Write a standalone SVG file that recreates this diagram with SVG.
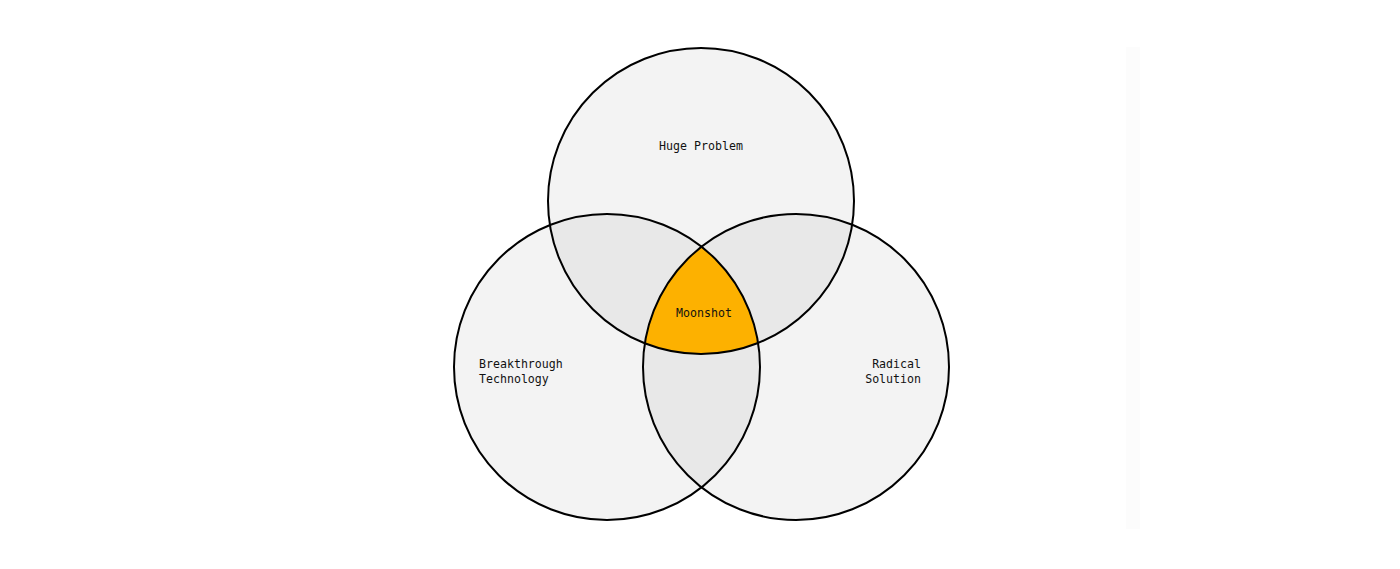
<svg xmlns="http://www.w3.org/2000/svg" width="1400" height="569" viewBox="0 0 1400 569">
<style>
.lbl{font-family:"DejaVu Sans Mono","Liberation Mono",monospace;font-size:11.6px;fill:#111}
.ring{fill:none;stroke:#000;stroke-width:2}
</style>
<defs>
<clipPath id="cA"><circle cx="701" cy="201" r="153"/></clipPath>
<clipPath id="cB"><circle cx="607" cy="367" r="153"/></clipPath>
<clipPath id="cC"><circle cx="796" cy="367" r="153"/></clipPath>
</defs>
<rect width="1400" height="569" fill="#fff"/>
<rect x="1126" y="47" width="14" height="482" fill="#fcfcfc"/>
<g id="fills">
<circle cx="701" cy="201" r="153" fill="#f3f3f3"/>
<circle cx="607" cy="367" r="153" fill="#f3f3f3"/>
<circle cx="796" cy="367" r="153" fill="#f3f3f3"/>
<g clip-path="url(#cA)"><circle cx="607" cy="367" r="153" fill="#e8e8e8"/><circle cx="796" cy="367" r="153" fill="#e8e8e8"/></g>
<g clip-path="url(#cB)"><circle cx="796" cy="367" r="153" fill="#e8e8e8"/></g>
<g clip-path="url(#cA)"><g clip-path="url(#cB)"><circle cx="796" cy="367" r="153" fill="#fdb100"/></g></g>
</g>
<g id="huge-problem"><circle class="ring" cx="701" cy="201" r="153"/><text class="lbl" x="701" y="150" text-anchor="middle">Huge Problem</text></g>
<g id="breakthrough-technology"><circle class="ring" cx="607" cy="367" r="153"/><text class="lbl" x="479" y="368">Breakthrough</text><text class="lbl" x="479" y="383">Technology</text></g>
<g id="radical-solution"><circle class="ring" cx="796" cy="367" r="153"/><text class="lbl" x="921" y="368" text-anchor="end">Radical</text><text class="lbl" x="921" y="383" text-anchor="end">Solution</text></g>
<g id="moonshot"><text class="lbl" x="704" y="317" text-anchor="middle">Moonshot</text></g>
<g id="connectors"></g>
</svg>
